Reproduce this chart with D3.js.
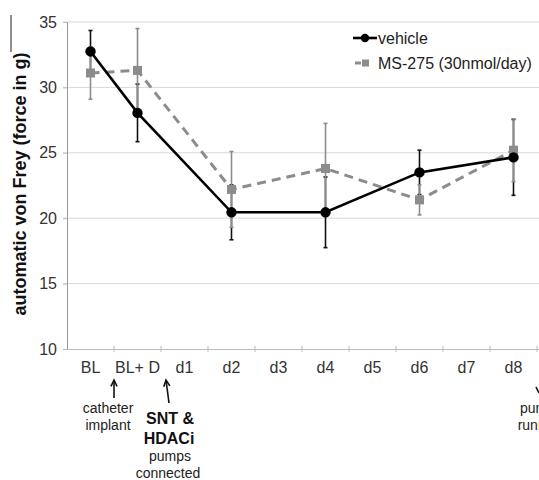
<!DOCTYPE html>
<html>
<head>
<meta charset="utf-8">
<script src="https://cdn.jsdelivr.net/npm/d3@7"></script>
<style>
  html, body { margin: 0; padding: 0; background: #fff; }
  svg { display: block; font-family: "Liberation Sans", Arial, sans-serif; }
</style>
</head>
<body>
<svg id="chart" width="539" height="480"></svg>
<script>
// ---- data ----
const categories = ["BL", "BL+ D", "d1", "d2", "d3", "d4", "d5", "d6", "d7", "d8", ""];
const measuredDays = ["BL", "BL+ D", "d2", "d4", "d6", "d8"];
const vehicleMean = [32.75, 28.05, 20.45, 20.45, 23.5, 24.65];
const vehicleErr  = [1.6, 2.2, 2.1, 2.7, 1.7, 2.9];
const ms275Mean   = [31.1, 31.3, 22.2, 23.8, 21.4, 25.2];
const ms275Err    = [2.0, 3.2, 2.9, 3.45, 1.15, 2.4];
const yTicks = [10, 15, 20, 25, 30, 35];
const seriesNames = ["vehicle", "MS-275 (30nmol/day)"];

const svg = d3.select("#chart");
const x = d3.scaleBand().domain(categories).range([67, 584]).padding(0);
const y = d3.scaleLinear().domain([10, 35]).range([349, 22]);
const cx = d => x(d) + x.bandwidth() / 2;

// gridlines
svg.append("g").selectAll("line").data(yTicks.filter(t => t > 10)).join("line")
  .attr("x1", 63).attr("x2", 539)
  .attr("y1", d => y(d)).attr("y2", d => y(d))
  .attr("stroke", "#d9d9d9").attr("stroke-width", 1);

// y axis
const yAxis = svg.append("g").attr("transform", "translate(67,0)")
  .call(d3.axisLeft(y).tickValues(yTicks).tickSize(4).tickPadding(6));
yAxis.select(".domain").attr("stroke", "#999");
yAxis.selectAll(".tick line").attr("stroke", "#bbb");
yAxis.selectAll(".tick text").attr("font-size", 16).attr("fill", "#333")
  .attr("font-family", "Liberation Sans, Arial, sans-serif");

// x axis
const xAxis = svg.append("g").attr("transform", "translate(0,349)")
  .call(d3.axisBottom(x).tickSize(0).tickPadding(13));
xAxis.select(".domain").attr("stroke", "#bbb");
xAxis.selectAll(".tick text").attr("font-size", 16).attr("fill", "#333")
  .attr("font-family", "Liberation Sans, Arial, sans-serif");
svg.append("g").selectAll("line").data(categories.slice(1)).join("line")
  .attr("x1", d => x(d)).attr("x2", d => x(d))
  .attr("y1", 346).attr("y2", 352)
  .attr("stroke", "#bbb");

// y title
svg.append("text")
  .attr("transform", "translate(26,184) rotate(-90)")
  .attr("text-anchor", "middle")
  .attr("font-size", 18).attr("font-weight", "bold").attr("fill", "#111")
  .text("automatic von Frey (force in g)");
svg.append("line").attr("x1", 11).attr("x2", 11).attr("y1", 15).attr("y2", 52)
  .attr("stroke", "#444").attr("stroke-width", 1.2);

const vehicle = measuredDays.map((d, i) => ({ d, v: vehicleMean[i], e: vehicleErr[i] }));
const ms = measuredDays.map((d, i) => ({ d, v: ms275Mean[i], e: ms275Err[i] }));

function errorBars(data, color) {
  const g = svg.append("g").attr("stroke", color).attr("stroke-width", 1.6);
  g.selectAll("line.v").data(data).join("line").attr("class", "v")
    .attr("x1", d => cx(d.d)).attr("x2", d => cx(d.d))
    .attr("y1", d => y(d.v + d.e)).attr("y2", d => y(d.v - d.e));
  g.selectAll("line.t").data(data).join("line").attr("class", "t")
    .attr("x1", d => cx(d.d) - 2).attr("x2", d => cx(d.d) + 2)
    .attr("y1", d => y(d.v + d.e)).attr("y2", d => y(d.v + d.e));
  g.selectAll("line.b").data(data).join("line").attr("class", "b")
    .attr("x1", d => cx(d.d) - 2).attr("x2", d => cx(d.d) + 2)
    .attr("y1", d => y(d.v - d.e)).attr("y2", d => y(d.v - d.e));
}
errorBars(vehicle, "#111");
errorBars(ms, "#8c8c8c");

const line = d3.line().x(d => cx(d.d)).y(d => y(d.v));
svg.append("path").datum(ms).attr("d", line)
  .attr("fill", "none").attr("stroke", "#8c8c8c").attr("stroke-width", 3)
  .attr("stroke-dasharray", "9,6");
svg.append("path").datum(vehicle).attr("d", line)
  .attr("fill", "none").attr("stroke", "#000").attr("stroke-width", 2.6);

svg.append("g").selectAll("rect").data(ms).join("rect")
  .attr("x", d => cx(d.d) - 4.5).attr("y", d => y(d.v) - 4.5)
  .attr("width", 9).attr("height", 9).attr("fill", "#8c8c8c");
svg.append("g").selectAll("circle").data(vehicle).join("circle")
  .attr("cx", d => cx(d.d)).attr("cy", d => y(d.v)).attr("r", 5.2).attr("fill", "#000");

// legend
const lg = svg.append("g");
lg.append("line").attr("x1", 353).attr("x2", 377).attr("y1", 38).attr("y2", 38)
  .attr("stroke", "#000").attr("stroke-width", 2.6);
lg.append("circle").attr("cx", 365).attr("cy", 38).attr("r", 4.2).attr("fill", "#000");
lg.append("text").attr("x", 378).attr("y", 44).attr("font-size", 16).attr("fill", "#222")
  .text(seriesNames[0]);
lg.append("line").attr("x1", 355).attr("x2", 361).attr("y1", 63).attr("y2", 63)
  .attr("stroke", "#8c8c8c").attr("stroke-width", 3);
lg.append("rect").attr("x", 362).attr("y", 59.5).attr("width", 7).attr("height", 7).attr("fill", "#8c8c8c");
lg.append("text").attr("x", 378).attr("y", 69).attr("font-size", 16).attr("fill", "#222")
  .text(seriesNames[1]);

// annotations
function arrow(x1, y1, x2, y2) {
  // tail (x1,y1) -> head (x2,y2)
  const ang = Math.atan2(y2 - y1, x2 - x1);
  const hl = 7, hw = 0.45;
  svg.append("line").attr("x1", x1).attr("y1", y1).attr("x2", x2).attr("y2", y2)
    .attr("stroke", "#111").attr("stroke-width", 1.6);
  svg.append("path").attr("d",
    `M${x2 - hl * Math.cos(ang - hw)},${y2 - hl * Math.sin(ang - hw)} L${x2},${y2} L${x2 - hl * Math.cos(ang + hw)},${y2 - hl * Math.sin(ang + hw)}`)
    .attr("fill", "none").attr("stroke", "#111").attr("stroke-width", 1.6);
}
arrow(x("BL+ D"), 398, x("BL+ D"), 380);
arrow(169, 403, 166, 380);

const ann = svg.append("g").attr("text-anchor", "middle").attr("fill", "#222");
ann.append("text").attr("x", 108).attr("y", 413).attr("font-size", 14).text("catheter");
ann.append("text").attr("x", 108).attr("y", 430).attr("font-size", 14).text("implant");
ann.append("text").attr("x", 170).attr("y", 424).attr("font-size", 16).attr("font-weight", "bold").attr("fill", "#111").text("SNT &");
ann.append("text").attr("x", 169).attr("y", 444).attr("font-size", 16).attr("font-weight", "bold").attr("fill", "#111").text("HDACi");
ann.append("text").attr("x", 170).attr("y", 461).attr("font-size", 14).text("pumps");
ann.append("text").attr("x", 168).attr("y", 478).attr("font-size", 14).text("connected");
ann.append("text").attr("x", 541).attr("y", 413).attr("font-size", 14).text("pumps");
ann.append("text").attr("x", 541).attr("y", 430).attr("font-size", 14).text("running");
svg.append("line").attr("x1", 536).attr("y1", 387).attr("x2", 539).attr("y2", 393)
  .attr("stroke", "#111").attr("stroke-width", 1.6);
</script>
</body>
</html>
